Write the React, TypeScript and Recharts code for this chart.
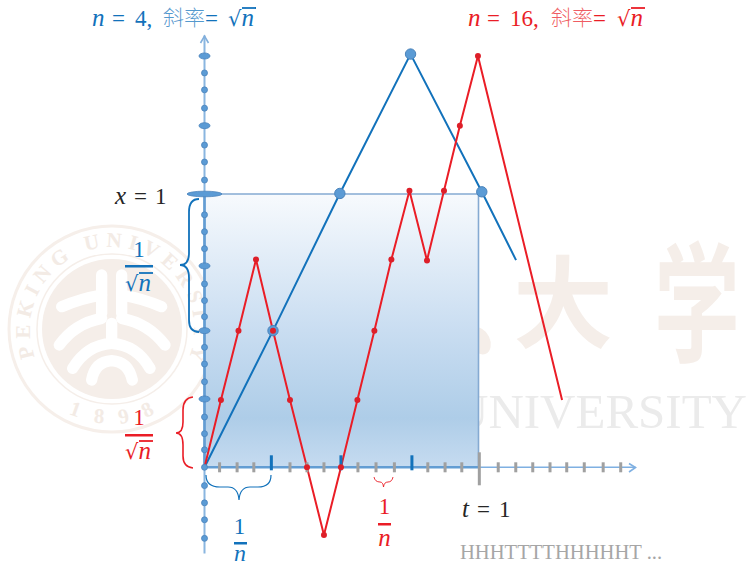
import React from 'react';
import { ComposedChart, Line, Scatter, XAxis, YAxis, ReferenceArea, ReferenceLine } from 'recharts';

const WIDTH = 747;
const HEIGHT = 565;

// the picture's origin and unit lengths, used only to set the axis domains
const ORIGIN_X = 204.5;
const ORIGIN_Y = 467.3;
const UNIT_T = 274;
const UNIT_X = 273.3;

const BLUE = '#1272bb';
const RED = '#ea1d26';
const DOT_BLUE = '#5b9bd5';
const SERIF = '"Liberation Serif", serif';
const CJK = '"Noto Sans CJK SC", sans-serif';

// n = 4 path
const blueT = [0, 0.25, 0.494, 0.752, 1.012, 1.137];
const blueX = [0, 0.5, 1.002, 1.512, 1.008, 0.758];

// n = 16 path
const redT = [0, 0.06, 0.124, 0.188, 0.25, 0.312, 0.374, 0.436, 0.498, 0.558, 0.62, 0.682, 0.748, 0.812, 0.874, 0.932, 0.998, 1.305];
const redX = [0, 0.246, 0.5, 0.76, 0.5, 0.246, 0, -0.248, 0, 0.246, 0.5, 0.76, 1.012, 0.757, 1.012, 1.25, 1.505, 0.246];

// marks sitting on the two axes
const axisSmallDots = [1.443, 1.381, 1.314, 1.179, 1.117, 1.051, 0.924, 0.862, 0.8, 0.671, 0.61, 0.551, 0.439, 0.378, 0.313, 0.184, 0.123, 0.064, 0, -0.067, -0.13, -0.192, -0.26];
const axisBigDots = [1.505, 1.25, 0.737, 0.5, 0.25];
const axisWideDots = [1];
const grayTicks = [0.055, 0.119, 0.18, 0.312, 0.374, 0.436, 0.56, 0.626, 0.693, 0.815, 0.878, 0.939, 1.072, 1.136, 1.198, 1.261, 1.322, 1.386, 1.455, 1.519];
const blueTicks = [0.244, 0.498, 0.757];
const bigTicks = [1.003];

const toPoints = (ts: number[], xs: number[]) => ts.map((t, i) => ({ t, x: xs[i] }));
const onYAxis = (xs: number[]) => xs.map((x) => ({ t: 0, x }));
const onXAxis = (ts: number[]) => ts.map((t) => ({ t, x: 0 }));

const bluePath = toPoints(blueT, blueX);
const redPath = toPoints(redT, redX);

function BlueDot({ cx, cy, index }: any) {
  if (index === 0 || index === blueT.length - 1) return <g key={index} />;
  return <circle key={index} cx={cx} cy={cy} r={5.2} fill={DOT_BLUE} stroke="#4a83bb" strokeWidth={1} />;
}

function RedDot({ cx, cy, index }: any) {
  if (index === 0 || index === redT.length - 1) return <g key={index} />;
  return <circle key={index} cx={cx} cy={cy} r={3} fill="#dd1f29" />;
}

const ellipseShape = (rx: number, ry: number) => ({ cx, cy }: any) => (
  <ellipse cx={cx} cy={cy} rx={rx} ry={ry} fill={DOT_BLUE} stroke="#4a83bb" strokeWidth={0.8} />
);

const tickShape = (color: string, up: number, down: number) => ({ cx, cy }: any) => (
  <rect x={cx - 1.5} y={cy - up} width={3} height={up + down} fill={color} />
);

function Watermark() {
  const cx = 112;
  const cy = 329;
  return (
    <svg width={WIDTH} height={HEIGHT} style={{ position: 'absolute', left: 0, top: 0 }}>
      <defs>
        <path id="sealTop" d={`M ${cx - 77} ${cy + 28} A 82 82 0 1 1 ${cx + 70} ${cy + 43}`} />
        <path id="sealBottom" d={`M ${cx - 85} ${cy + 42} A 95 95 0 0 0 ${cx + 85} ${cy + 42}`} />
      </defs>
      <circle cx={cx} cy={cy} r={103} fill="none" stroke="#f6efea" strokeWidth={3} />
      <circle cx={cx} cy={cy} r={75} fill="none" stroke="#f5eee9" strokeWidth={1.5} />
      <circle cx={cx} cy={cy} r={70} fill="#f5eee9" />
      <text fontFamily={SERIF} fontSize={21} fontWeight={700} fill="#f3ebe5" letterSpacing={6}>
        <textPath href="#sealTop">PEKING UNIVERSITY</textPath>
      </text>
      <text fontFamily={SERIF} fontSize={21} fontWeight={700} fill="#f3ebe5" letterSpacing={16}>
        <textPath href="#sealBottom" startOffset={60}>1898</textPath>
      </text>
      <g transform="translate(0,210) scale(0.3333)" fill="none" stroke="#fff" strokeWidth={34} strokeLinecap="round" strokeLinejoin="round">
        <path d="M305 195 L305 310" />
        <path d="M365 195 L365 310" />
        <path d="M305 255 Q245 265 185 290" />
        <path d="M365 255 Q425 265 485 290" />
        <path d="M305 325 Q225 340 178 405" />
        <path d="M365 325 Q445 340 495 405" />
        <path d="M335 340 L335 400 Q260 405 218 475" />
        <path d="M335 400 Q410 405 450 475" />
        <path d="M275 510 Q285 455 335 452 Q385 455 397 510" />
      </g>
      <ellipse cx={480} cy={341} rx={10} ry={14} fill="#f5eee9" transform="rotate(-25 480 341)" />
      <text x={563} y={340} fontFamily={CJK} fontWeight={700} fontSize={100} fill="#f5eee9" textAnchor="middle">大</text>
      <text transform="translate(697,352) scale(0.66,1)" fontFamily={CJK} fontWeight={700} fontSize={130} fill="#f5eee9" textAnchor="middle">学</text>
      <text x={747} y={428} fontFamily={SERIF} fontSize={49} fill="#ebebeb" textAnchor="end">UNIVERSITY</text>
    </svg>
  );
}

function SqrtN({ x, y, color }: { x: number; y: number; color: string }) {
  return (
    <g fill={color}>
      <text x={x} y={y} fontFamily='"DejaVu Sans", sans-serif' fontSize={21}>
        √<tspan fontFamily={SERIF} fontStyle="italic" fontSize={25}>n</tspan>
      </text>
      <line x1={x + 14} x2={x + 28} y1={y - 18} y2={y - 18} stroke={color} strokeWidth={1.8} />
    </g>
  );
}

function Title({ x, digits, color, offsets }: { x: number; digits: string; color: string; offsets: number[] }) {
  const [eq, num, cn, eq2, root] = offsets;
  const y = 26;
  return (
    <g fontFamily={SERIF} fontSize={23} fill={color}>
      <text x={x} y={y} fontStyle="italic" fontSize={25}>n</text>
      <text x={x + eq} y={y}>=</text>
      <text x={x + num} y={y}>{digits},</text>
      <text x={x + cn} y={y - 1} fontFamily={CJK} fontWeight={300} fontSize={21} fillOpacity={0.72}>斜率</text>
      <text x={x + eq2} y={y}>=</text>
      <SqrtN x={x + root} y={y} color={color} />
    </g>
  );
}

function Annotations() {
  return (
    <svg width={WIDTH} height={HEIGHT} style={{ position: 'absolute', left: 0, top: 0 }}>
      <Title x={92} digits="4" color={BLUE} offsets={[20, 43, 71, 113, 136]} />
      <Title x={468} digits="16" color={RED} offsets={[19, 42, 83, 125, 149]} />

      {/* axis arrow heads */}
      <path d="M200.5 43 L204.5 36 L208.5 43" fill="none" stroke="#82afdc" strokeWidth={1.6} />
      <path d="M629 463.5 L635.5 467.5 L629 472" fill="none" stroke="#7fb0e2" strokeWidth={1.6} />

      {/* braces */}
      <path d="M199 199 Q189 199 189 212 L189 253 Q189 265 180 265 Q189 265 189 278 L189 320 Q189 332 199 332" fill="none" stroke={BLUE} strokeWidth={1.8} />
      <path d="M193 397 Q183 398 183 410 L183 422 Q183 433 176 433 Q183 433 183 445 L183 456 Q183 467 193 468" fill="none" stroke={RED} strokeWidth={1.6} />
      <path d="M206 475 Q206 487 220 487 L228 487 Q238 487 239 500 Q240 487 250 487 L258 487 Q271 487 271 475" fill="none" stroke={BLUE} strokeWidth={1.2} />
      <path d="M374 477 Q375 482 380 482 Q383 482 383.5 487 Q384 482 388 482 Q392 482 393 477" fill="none" stroke={RED} strokeWidth={0.9} />

      {/* fractions */}
      <g fontFamily={SERIF} fontSize={23} textAnchor="middle">
        <text x={139} y={257} fill={BLUE}>1</text>
        <text x={139} y={425} fill={RED}>1</text>
        <text x={239.5} y={534} fill={BLUE}>1</text>
        <text x={384.5} y={514} fill={RED}>1</text>
        <text x={240} y={561} fill={BLUE} fontStyle="italic" fontSize={24}>n</text>
        <text x={384.5} y={546} fill={RED} fontStyle="italic" fontSize={25}>n</text>
      </g>
      <rect x={125} y={265} width={28} height={2.5} fill={BLUE} />
      <rect x={125} y={434} width={28} height={2.5} fill={RED} />
      <rect x={234} y={542} width={13} height={2.5} fill={BLUE} />
      <rect x={378} y={523} width={13} height={2.5} fill={RED} />
      <SqrtN x={125} y={291} color={BLUE} />
      <SqrtN x={125} y={459} color={RED} />

      {/* labels */}
      <g fontFamily={SERIF} fontSize={23} fill="#262626">
        <text x={115} y={204} fontStyle="italic" fontSize={25}>x</text>
        <text x={134} y={204}>=</text>
        <text x={155} y={204}>1</text>
        <text x={462} y={517} fontStyle="italic" fontSize={25}>t</text>
        <text x={477} y={517}>=</text>
        <text x={499} y={517}>1</text>
      </g>
      <text x={460} y={559} fontFamily={SERIF} fontSize={20.6} fill="#a6a6a6">HHHTTTTHHHHHT ...</text>
    </svg>
  );
}

export default function App() {
  return (
    <div style={{ position: 'absolute', left: 0, top: 0, width: WIDTH, height: HEIGHT, overflow: 'hidden', background: '#fff' }}>
      <Watermark />
      <div style={{ position: 'absolute', left: 0, top: 0 }}>
        <ComposedChart width={WIDTH} height={HEIGHT} margin={{ top: 0, right: 0, bottom: 0, left: 0 }}>
          <defs>
            <linearGradient id="squareFill" x1="0" y1="0" x2="0" y2="1">
              <stop offset="0%" stopColor="#f7fafd" />
              <stop offset="50%" stopColor="#c9ddf1" />
              <stop offset="82%" stopColor="#aecde8" />
              <stop offset="100%" stopColor="#c6dbf0" />
            </linearGradient>
          </defs>
          <XAxis
            hide
            type="number"
            dataKey="t"
            allowDataOverflow
            domain={[-ORIGIN_X / UNIT_T, (WIDTH - ORIGIN_X) / UNIT_T]}
          />
          <YAxis
            hide
            type="number"
            dataKey="x"
            allowDataOverflow
            domain={[(ORIGIN_Y - HEIGHT) / UNIT_X, ORIGIN_Y / UNIT_X]}
          />
          <ReferenceArea x1={0} x2={1} y1={0} y2={1} fill="url(#squareFill)" fillOpacity={1} stroke="#85aad2" strokeWidth={1.6} />
          <ReferenceLine segment={[{ x: 0, y: -0.315 }, { x: 0, y: 1.58 }]} stroke="#8ab6e0" strokeWidth={2} />
          <ReferenceLine segment={[{ x: 0, y: 0 }, { x: 0, y: 1 }]} stroke="#639dd3" strokeWidth={2.5} />
          <ReferenceLine segment={[{ x: 0, y: 0 }, { x: 1.573, y: 0 }]} stroke="#7fb0e2" strokeWidth={1.6} />
          <ReferenceLine segment={[{ x: 0, y: 0 }, { x: 1, y: 0 }]} stroke="#639dd3" strokeWidth={2.5} />

          <Scatter data={onXAxis(grayTicks)} shape={tickShape('#a0a0a0', 5, 5)} isAnimationActive={false} />
          <Scatter data={onXAxis(bigTicks)} shape={tickShape('#a0a0a0', 15, 18)} isAnimationActive={false} />
          <Scatter data={onXAxis(blueTicks)} shape={tickShape(BLUE, 12, 3)} isAnimationActive={false} />
          <Scatter data={onYAxis(axisSmallDots)} shape={ellipseShape(3, 3)} isAnimationActive={false} />
          <Scatter data={onYAxis(axisBigDots)} shape={ellipseShape(5.5, 3)} isAnimationActive={false} />
          <Scatter data={onYAxis(axisWideDots)} shape={ellipseShape(17.5, 2.8)} isAnimationActive={false} />

          <Line data={bluePath} dataKey="x" type="linear" stroke={BLUE} strokeWidth={2} dot={BlueDot} activeDot={false} isAnimationActive={false} />
          <Line data={redPath} dataKey="x" type="linear" stroke={RED} strokeWidth={2} dot={RedDot} activeDot={false} isAnimationActive={false} />
        </ComposedChart>
      </div>
      <Annotations />
    </div>
  );
}
